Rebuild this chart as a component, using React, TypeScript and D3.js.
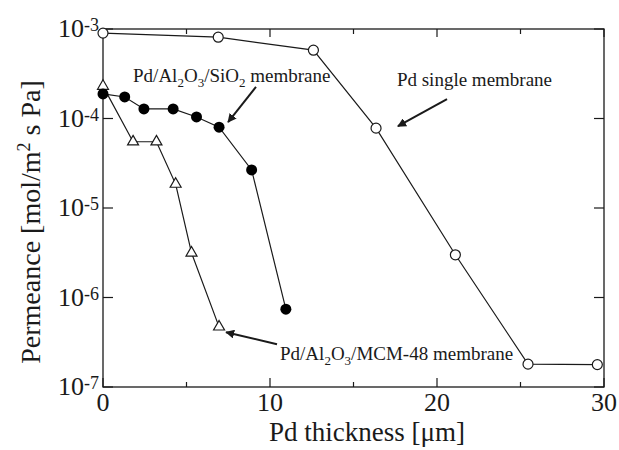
import * as d3 from "d3";

// Pd single membrane (open circles)
const pdX = [0, 6.9, 12.6, 16.35, 21.1, 25.45, 29.6];
const pdY = [9.0e-4, 8.1e-4, 5.8e-4, 7.8e-5, 3.0e-6, 1.8e-7, 1.78e-7];

// Pd/Al2O3/SiO2 membrane (filled circles)
const sioX = [0, 1.3, 2.45, 4.2, 5.6, 6.95, 8.9, 10.95];
const sioY = [1.88e-4, 1.74e-4, 1.28e-4, 1.28e-4, 1.04e-4, 8.0e-5, 2.66e-5, 7.4e-7];

// Pd/Al2O3/MCM-48 membrane (open triangles)
const mcmX = [0, 1.8, 3.2, 4.35, 5.3, 6.95];
const mcmY = [2.3e-4, 5.5e-5, 5.5e-5, 1.85e-5, 3.15e-6, 4.7e-7];

const xMajor = [0, 10, 20, 30];
const xMinor = [5, 15, 25];
const yExps = [-3, -4, -5, -6, -7];

// label pieces: [text, subscript?]
const sioLabel: [string, boolean][] = [["Pd/Al", false], ["2", true], ["O", false], ["3", true], ["/SiO", false], ["2", true], [" membrane", false]];
const mcmLabel: [string, boolean][] = [["Pd/Al", false], ["2", true], ["O", false], ["3", true], ["/MCM-48 membrane", false]];

const W = 619;
const H = 450;
const margin = { top: 29, right: 15, bottom: 63, left: 103 };
const font = "'Liberation Serif', 'Times New Roman', serif";
const ink = "#1a1a1a";

const x = d3.scaleLinear().domain([0, 30]).range([margin.left, W - margin.right]);
const y = d3.scaleLog().domain([1e-7, 1e-3]).range([H - margin.bottom, margin.top]);

const zip = (xs: number[], ys: number[]) => xs.map((v, i) => [v, ys[i]] as [number, number]);
const line = d3
  .line<[number, number]>()
  .x((d) => x(d[0]))
  .y((d) => y(d[1]));

const tri = d3.symbol().type(d3.symbolTriangle).size(52)();

// annotation arrows, in data units: [fromX, fromY, toX, toY]
const arrows = [
  [9.16, 2.25e-4, 7.49, 9.1e-5],
  [20.6, 1.65e-4, 17.66, 8.2e-5],
  [10.42, 3.0e-7, 7.37, 4.1e-7],
];

function Label({ px, py, parts }: { px: number; py: number; parts: [string, boolean][] }) {
  let prev = false;
  return (
    <text x={px} y={py} fontFamily={font} fontSize={19} fill={ink}>
      {parts.map(([t, sub], i) => {
        const dy = sub === prev ? 0 : sub ? 5 : -5;
        prev = sub;
        return (
          <tspan key={i} dy={dy} fontSize={sub ? 13 : 19}>
            {t}
          </tspan>
        );
      })}
    </text>
  );
}

export default function App() {
  const x0 = margin.left;
  const x1 = W - margin.right;
  const y0 = H - margin.bottom;
  const y1 = margin.top;
  return (
    <div style={{ position: "absolute", left: 0, top: 0 }}>
      <svg width={W} height={H} style={{ display: "block", background: "#fff" }}>
        <defs>
          <marker id="ah" viewBox="0 0 10 10" refX="9" refY="5" markerWidth="4.5" markerHeight="4.5" orient="auto">
            <path d="M0,0 L10,5 L0,10 z" fill={ink} />
          </marker>
        </defs>

        {/* frame */}
        <rect x={x0} y={y1} width={x1 - x0} height={y0 - y1} fill="none" stroke={ink} strokeWidth={1.3} />

        {/* x ticks */}
        {xMajor.map((v) => (
          <g key={"xm" + v}>
            <line x1={x(v)} x2={x(v)} y1={y0} y2={y0 - 9} stroke={ink} strokeWidth={1.2} />
            <line x1={x(v)} x2={x(v)} y1={y1} y2={y1 + 8} stroke={ink} strokeWidth={1.2} />
            <text x={x(v)} y={y0 + 24} textAnchor="middle" fontFamily={font} fontSize={26} fill={ink}>
              {v}
            </text>
          </g>
        ))}
        {xMinor.map((v) => (
          <g key={"xn" + v}>
            <line x1={x(v)} x2={x(v)} y1={y0} y2={y0 - 5} stroke={ink} strokeWidth={1.2} />
            <line x1={x(v)} x2={x(v)} y1={y1} y2={y1 + 5} stroke={ink} strokeWidth={1.2} />
          </g>
        ))}

        {/* y ticks */}
        {yExps.map((e) => {
          const yy = y(Math.pow(10, e));
          return (
            <g key={"y" + e}>
              <line x1={x0} x2={x0 + 10} y1={yy} y2={yy} stroke={ink} strokeWidth={1.2} />
              <line x1={x1} x2={x1 - 10} y1={yy} y2={yy} stroke={ink} strokeWidth={1.2} />
              <text x={x0 - 4} y={yy + 8} textAnchor="end" fontFamily={font} fontSize={26} fill={ink}>
                10
                <tspan fontSize={18} dy={-6}>{e}</tspan>
              </text>
            </g>
          );
        })}

        {/* axis titles */}
        <text x={367} y={441} textAnchor="middle" fontFamily={font} fontSize={27} fill={ink}>
          Pd thickness [μm]
        </text>
        <text
          transform={`translate(40,${(y0 + y1) / 2 + 14}) rotate(-90)`}
          textAnchor="middle"
          fontFamily={font}
          fontSize={28}
          fill={ink}
        >
          Permeance [mol/m<tspan fontSize={18} dy={-10}>2</tspan>
          <tspan dy={10}> s Pa]</tspan>
        </text>

        {/* series lines */}
        <path d={line(zip(pdX, pdY)) || ""} fill="none" stroke={ink} strokeWidth={1.2} />
        <path d={line(zip(sioX, sioY)) || ""} fill="none" stroke={ink} strokeWidth={1.2} />
        <path d={line(zip(mcmX, mcmY)) || ""} fill="none" stroke={ink} strokeWidth={1.2} />

        {/* markers */}
        {zip(mcmX, mcmY).map((d, i) => (
          <path key={"t" + i} d={tri || ""} transform={`translate(${x(d[0])},${y(d[1])})`} fill="#fff" stroke={ink} strokeWidth={1.2} />
        ))}
        {zip(sioX, sioY).map((d, i) => (
          <circle key={"f" + i} cx={x(d[0])} cy={y(d[1])} r={5.5} fill="#000" />
        ))}
        {zip(pdX, pdY).map((d, i) => (
          <circle key={"o" + i} cx={x(d[0])} cy={y(d[1])} r={5} fill="#fff" stroke={ink} strokeWidth={1.2} />
        ))}

        {/* annotations */}
        {arrows.map((a, i) => (
          <line
            key={"a" + i}
            x1={x(a[0])}
            y1={y(a[1])}
            x2={x(a[2])}
            y2={y(a[3])}
            stroke={ink}
            strokeWidth={2}
            markerEnd="url(#ah)"
          />
        ))}
        <Label px={x(1.8)} py={y(2.56e-4)} parts={sioLabel} />
        <text x={x(17.6)} y={y(2.31e-4)} fontFamily={font} fontSize={19} fill={ink}>
          Pd single membrane
        </text>
        <Label px={x(10.6)} py={y(2.0e-7)} parts={mcmLabel} />
      </svg>
    </div>
  );
}
